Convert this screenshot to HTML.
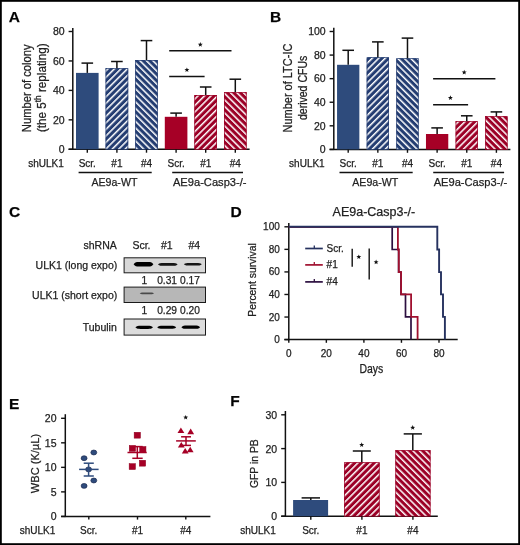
<!DOCTYPE html><html><head><meta charset="utf-8"><style>html,body{margin:0;padding:0;background:#fff;}svg{display:block;will-change:transform;}text{font-family:"Liberation Sans", sans-serif;stroke:#222;stroke-width:0.25px;}</style></head><body>
<svg width="520" height="545" viewBox="0 0 520 545">
<defs>
<pattern id="fb" patternUnits="userSpaceOnUse" width="4.6" height="4.6" patternTransform="rotate(45)"><rect width="4.6" height="4.6" fill="#243d72"/><rect x="0" y="0" width="1.5" height="4.6" fill="#fff"/></pattern>
<pattern id="kb" patternUnits="userSpaceOnUse" width="4.6" height="4.6" patternTransform="rotate(-45)"><rect width="4.6" height="4.6" fill="#243d72"/><rect x="0" y="0" width="1.5" height="4.6" fill="#fff"/></pattern>
<pattern id="fr" patternUnits="userSpaceOnUse" width="4.6" height="4.6" patternTransform="rotate(45)"><rect width="4.6" height="4.6" fill="#9c0026"/><rect x="0" y="0" width="1.5" height="4.6" fill="#fff"/></pattern>
<pattern id="kr" patternUnits="userSpaceOnUse" width="4.6" height="4.6" patternTransform="rotate(-45)"><rect width="4.6" height="4.6" fill="#9c0026"/><rect x="0" y="0" width="1.5" height="4.6" fill="#fff"/></pattern>
</defs>
<rect width="520" height="545" fill="#fff"/>
<text x="8.8" y="21.7" font-size="15.5" text-anchor="start" fill="#000" font-weight="bold" >A</text>
<text x="269.9" y="21.7" font-size="15.5" text-anchor="start" fill="#000" font-weight="bold" >B</text>
<text x="8.9" y="217.4" font-size="15.5" text-anchor="start" fill="#000" font-weight="bold" >C</text>
<text x="230.5" y="217.4" font-size="15.5" text-anchor="start" fill="#000" font-weight="bold" >D</text>
<text x="9.1" y="408.9" font-size="15.5" text-anchor="start" fill="#000" font-weight="bold" >E</text>
<text x="230.3" y="405.9" font-size="15.5" text-anchor="start" fill="#000" font-weight="bold" >F</text>
<line x1="72.8" y1="28" x2="72.8" y2="150.0" stroke="#111" stroke-width="1.5"/>
<line x1="68.6" y1="31.5" x2="72.8" y2="31.5" stroke="#111" stroke-width="1.4"/>
<text x="64.7" y="35.25" font-size="10.5" text-anchor="end" fill="#222" font-weight="normal" >80</text>
<line x1="68.6" y1="60.95" x2="72.8" y2="60.95" stroke="#111" stroke-width="1.4"/>
<text x="64.7" y="64.7" font-size="10.5" text-anchor="end" fill="#222" font-weight="normal" >60</text>
<line x1="68.6" y1="90.4" x2="72.8" y2="90.4" stroke="#111" stroke-width="1.4"/>
<text x="64.7" y="94.15" font-size="10.5" text-anchor="end" fill="#222" font-weight="normal" >40</text>
<line x1="68.6" y1="119.85000000000001" x2="72.8" y2="119.85000000000001" stroke="#111" stroke-width="1.4"/>
<text x="64.7" y="123.60000000000001" font-size="10.5" text-anchor="end" fill="#222" font-weight="normal" >20</text>
<line x1="68.6" y1="149.3" x2="72.8" y2="149.3" stroke="#111" stroke-width="1.4"/>
<text x="64.7" y="153.05" font-size="10.5" text-anchor="end" fill="#222" font-weight="normal" >0</text>
<line x1="68.6" y1="149.3" x2="249.6" y2="149.3" stroke="#111" stroke-width="1.5"/>
<rect x="76.0" y="72.9" width="22.60" height="76.40" fill="#2e4b7c" stroke="none" stroke-width="0"/>
<line x1="87.3" y1="72.9" x2="87.3" y2="63.1" stroke="#111" stroke-width="1.5"/>
<line x1="81.5" y1="63.1" x2="93.1" y2="63.1" stroke="#111" stroke-width="1.5"/>
<line x1="87.3" y1="149.3" x2="87.3" y2="152.70000000000002" stroke="#111" stroke-width="1.4"/>
<rect x="105.60000000000001" y="68.2" width="22.60" height="81.10" fill="url(#fb)" stroke="none" stroke-width="0"/>
<rect x="105.95" y="68.55" width="21.90" height="80.75" fill="none" stroke="#243d72" stroke-width="0.7"/>
<line x1="116.9" y1="68.2" x2="116.9" y2="61.5" stroke="#111" stroke-width="1.5"/>
<line x1="111.10000000000001" y1="61.5" x2="122.7" y2="61.5" stroke="#111" stroke-width="1.5"/>
<line x1="116.9" y1="149.3" x2="116.9" y2="152.70000000000002" stroke="#111" stroke-width="1.4"/>
<rect x="135.2" y="60.0" width="22.60" height="89.30" fill="url(#kb)" stroke="none" stroke-width="0"/>
<rect x="135.54999999999998" y="60.35" width="21.90" height="88.95" fill="none" stroke="#243d72" stroke-width="0.7"/>
<line x1="146.5" y1="60.0" x2="146.5" y2="40.6" stroke="#111" stroke-width="1.5"/>
<line x1="140.7" y1="40.6" x2="152.3" y2="40.6" stroke="#111" stroke-width="1.5"/>
<line x1="146.5" y1="149.3" x2="146.5" y2="152.70000000000002" stroke="#111" stroke-width="1.4"/>
<rect x="164.8" y="116.8" width="22.60" height="32.50" fill="#a60026" stroke="none" stroke-width="0"/>
<line x1="176.10000000000002" y1="116.8" x2="176.10000000000002" y2="113.1" stroke="#111" stroke-width="1.5"/>
<line x1="170.3" y1="113.1" x2="181.90000000000003" y2="113.1" stroke="#111" stroke-width="1.5"/>
<line x1="176.10000000000002" y1="149.3" x2="176.10000000000002" y2="152.70000000000002" stroke="#111" stroke-width="1.4"/>
<rect x="194.39999999999998" y="95.0" width="22.60" height="54.30" fill="url(#fr)" stroke="none" stroke-width="0"/>
<rect x="194.74999999999997" y="95.35" width="21.90" height="53.95" fill="none" stroke="#9c0026" stroke-width="0.7"/>
<line x1="205.7" y1="95.0" x2="205.7" y2="87.0" stroke="#111" stroke-width="1.5"/>
<line x1="199.89999999999998" y1="87.0" x2="211.5" y2="87.0" stroke="#111" stroke-width="1.5"/>
<line x1="205.7" y1="149.3" x2="205.7" y2="152.70000000000002" stroke="#111" stroke-width="1.4"/>
<rect x="224.0" y="92.2" width="22.60" height="57.10" fill="url(#kr)" stroke="none" stroke-width="0"/>
<rect x="224.35" y="92.55" width="21.90" height="56.75" fill="none" stroke="#9c0026" stroke-width="0.7"/>
<line x1="235.3" y1="92.2" x2="235.3" y2="79.2" stroke="#111" stroke-width="1.5"/>
<line x1="229.5" y1="79.2" x2="241.10000000000002" y2="79.2" stroke="#111" stroke-width="1.5"/>
<line x1="235.3" y1="149.3" x2="235.3" y2="152.70000000000002" stroke="#111" stroke-width="1.4"/>
<line x1="169.2" y1="50.8" x2="231.5" y2="50.8" stroke="#111" stroke-width="1.5"/>
<polygon points="200.30,42.00 200.95,43.71 202.77,43.80 201.35,44.94 201.83,46.70 200.30,45.70 198.77,46.70 199.25,44.94 197.83,43.80 199.65,43.71" fill="#111"/>
<line x1="169.2" y1="76.5" x2="204.6" y2="76.5" stroke="#111" stroke-width="1.5"/>
<polygon points="186.90,67.40 187.55,69.11 189.37,69.20 187.95,70.34 188.43,72.10 186.90,71.10 185.37,72.10 185.85,70.34 184.43,69.20 186.25,69.11" fill="#111"/>
<text x="63.8" y="166.6" font-size="10" text-anchor="end" fill="#222" font-weight="normal" >shULK1</text>
<text x="87.3" y="166.6" font-size="10" text-anchor="middle" fill="#222" font-weight="normal" >Scr.</text>
<text x="116.9" y="166.6" font-size="10" text-anchor="middle" fill="#222" font-weight="normal" >#1</text>
<text x="146.5" y="166.6" font-size="10" text-anchor="middle" fill="#222" font-weight="normal" >#4</text>
<text x="176.10000000000002" y="166.6" font-size="10" text-anchor="middle" fill="#222" font-weight="normal" >Scr.</text>
<text x="205.7" y="166.6" font-size="10" text-anchor="middle" fill="#222" font-weight="normal" >#1</text>
<text x="235.3" y="166.6" font-size="10" text-anchor="middle" fill="#222" font-weight="normal" >#4</text>
<line x1="78.6" y1="172.6" x2="151.7" y2="172.6" stroke="#111" stroke-width="1.5"/>
<line x1="172.20000000000002" y1="172.6" x2="243.0" y2="172.6" stroke="#111" stroke-width="1.5"/>
<text x="114.4" y="185.6" font-size="11.8" text-anchor="middle" fill="#222" font-weight="normal" textLength="46" lengthAdjust="spacingAndGlyphs">AE9a-WT</text>
<text x="209.75" y="185.6" font-size="11.8" text-anchor="middle" fill="#222" font-weight="normal" textLength="73.6" lengthAdjust="spacingAndGlyphs">AE9a-Casp3-/-</text>
<text transform="translate(30.5,88.3) rotate(-90)" font-size="12" text-anchor="middle" fill="#222" textLength="87.8" lengthAdjust="spacingAndGlyphs">Number of colony</text>
<text transform="translate(45.5,87.75) rotate(-90) scale(0.974,1)" font-size="12" text-anchor="middle" fill="#222">(the 5<tspan font-size="8.5" dy="-4.3">th</tspan><tspan dy="4.3"> replating)</tspan></text>
<line x1="333.8" y1="27.8" x2="333.8" y2="150.1" stroke="#111" stroke-width="1.5"/>
<line x1="329.6" y1="31.5" x2="333.8" y2="31.5" stroke="#111" stroke-width="1.4"/>
<text x="325.7" y="35.25" font-size="10.5" text-anchor="end" fill="#222" font-weight="normal" >100</text>
<line x1="329.6" y1="55.08" x2="333.8" y2="55.08" stroke="#111" stroke-width="1.4"/>
<text x="325.7" y="58.83" font-size="10.5" text-anchor="end" fill="#222" font-weight="normal" >80</text>
<line x1="329.6" y1="78.66" x2="333.8" y2="78.66" stroke="#111" stroke-width="1.4"/>
<text x="325.7" y="82.41" font-size="10.5" text-anchor="end" fill="#222" font-weight="normal" >60</text>
<line x1="329.6" y1="102.24000000000001" x2="333.8" y2="102.24000000000001" stroke="#111" stroke-width="1.4"/>
<text x="325.7" y="105.99000000000001" font-size="10.5" text-anchor="end" fill="#222" font-weight="normal" >40</text>
<line x1="329.6" y1="125.82000000000001" x2="333.8" y2="125.82000000000001" stroke="#111" stroke-width="1.4"/>
<text x="325.7" y="129.57" font-size="10.5" text-anchor="end" fill="#222" font-weight="normal" >20</text>
<line x1="329.6" y1="149.4" x2="333.8" y2="149.4" stroke="#111" stroke-width="1.4"/>
<text x="325.7" y="153.15" font-size="10.5" text-anchor="end" fill="#222" font-weight="normal" >0</text>
<line x1="329.6" y1="149.4" x2="510.4" y2="149.4" stroke="#111" stroke-width="1.5"/>
<rect x="337.05" y="64.8" width="22.30" height="84.60" fill="#2e4b7c" stroke="none" stroke-width="0"/>
<line x1="348.2" y1="64.8" x2="348.2" y2="50.3" stroke="#111" stroke-width="1.5"/>
<line x1="342.4" y1="50.3" x2="354.0" y2="50.3" stroke="#111" stroke-width="1.5"/>
<line x1="348.2" y1="149.4" x2="348.2" y2="152.8" stroke="#111" stroke-width="1.4"/>
<rect x="366.69" y="57.3" width="22.30" height="92.10" fill="url(#fb)" stroke="none" stroke-width="0"/>
<rect x="367.04" y="57.65" width="21.60" height="91.75" fill="none" stroke="#243d72" stroke-width="0.7"/>
<line x1="377.84" y1="57.3" x2="377.84" y2="41.9" stroke="#111" stroke-width="1.5"/>
<line x1="372.03999999999996" y1="41.9" x2="383.64" y2="41.9" stroke="#111" stroke-width="1.5"/>
<line x1="377.84" y1="149.4" x2="377.84" y2="152.8" stroke="#111" stroke-width="1.4"/>
<rect x="396.33000000000004" y="58.3" width="22.30" height="91.10" fill="url(#kb)" stroke="none" stroke-width="0"/>
<rect x="396.68000000000006" y="58.65" width="21.60" height="90.75" fill="none" stroke="#243d72" stroke-width="0.7"/>
<line x1="407.48" y1="58.3" x2="407.48" y2="38.1" stroke="#111" stroke-width="1.5"/>
<line x1="401.68" y1="38.1" x2="413.28000000000003" y2="38.1" stroke="#111" stroke-width="1.5"/>
<line x1="407.48" y1="149.4" x2="407.48" y2="152.8" stroke="#111" stroke-width="1.4"/>
<rect x="425.97" y="134.0" width="22.30" height="15.40" fill="#a60026" stroke="none" stroke-width="0"/>
<line x1="437.12" y1="134.0" x2="437.12" y2="127.9" stroke="#111" stroke-width="1.5"/>
<line x1="431.32" y1="127.9" x2="442.92" y2="127.9" stroke="#111" stroke-width="1.5"/>
<line x1="437.12" y1="149.4" x2="437.12" y2="152.8" stroke="#111" stroke-width="1.4"/>
<rect x="455.61" y="121.2" width="22.30" height="28.20" fill="url(#fr)" stroke="none" stroke-width="0"/>
<rect x="455.96000000000004" y="121.55" width="21.60" height="27.85" fill="none" stroke="#9c0026" stroke-width="0.7"/>
<line x1="466.76" y1="121.2" x2="466.76" y2="115.8" stroke="#111" stroke-width="1.5"/>
<line x1="460.96" y1="115.8" x2="472.56" y2="115.8" stroke="#111" stroke-width="1.5"/>
<line x1="466.76" y1="149.4" x2="466.76" y2="152.8" stroke="#111" stroke-width="1.4"/>
<rect x="485.25" y="116.2" width="22.30" height="33.20" fill="url(#kr)" stroke="none" stroke-width="0"/>
<rect x="485.6" y="116.55" width="21.60" height="32.85" fill="none" stroke="#9c0026" stroke-width="0.7"/>
<line x1="496.4" y1="116.2" x2="496.4" y2="111.9" stroke="#111" stroke-width="1.5"/>
<line x1="490.59999999999997" y1="111.9" x2="502.2" y2="111.9" stroke="#111" stroke-width="1.5"/>
<line x1="496.4" y1="149.4" x2="496.4" y2="152.8" stroke="#111" stroke-width="1.4"/>
<line x1="433.1" y1="78.7" x2="495.4" y2="78.7" stroke="#111" stroke-width="1.5"/>
<polygon points="464.20,69.70 464.85,71.41 466.67,71.50 465.25,72.64 465.73,74.40 464.20,73.40 462.67,74.40 463.15,72.64 461.73,71.50 463.55,71.41" fill="#111"/>
<line x1="433.1" y1="104.8" x2="468.1" y2="104.8" stroke="#111" stroke-width="1.5"/>
<polygon points="450.40,95.30 451.05,97.01 452.87,97.10 451.45,98.24 451.93,100.00 450.40,99.00 448.87,100.00 449.35,98.24 447.93,97.10 449.75,97.01" fill="#111"/>
<text x="324.7" y="166.6" font-size="10" text-anchor="end" fill="#222" font-weight="normal" >shULK1</text>
<text x="348.2" y="166.6" font-size="10" text-anchor="middle" fill="#222" font-weight="normal" >Scr.</text>
<text x="377.84" y="166.6" font-size="10" text-anchor="middle" fill="#222" font-weight="normal" >#1</text>
<text x="407.48" y="166.6" font-size="10" text-anchor="middle" fill="#222" font-weight="normal" >#4</text>
<text x="437.12" y="166.6" font-size="10" text-anchor="middle" fill="#222" font-weight="normal" >Scr.</text>
<text x="466.76" y="166.6" font-size="10" text-anchor="middle" fill="#222" font-weight="normal" >#1</text>
<text x="496.4" y="166.6" font-size="10" text-anchor="middle" fill="#222" font-weight="normal" >#4</text>
<line x1="339.5" y1="172.6" x2="412.68" y2="172.6" stroke="#111" stroke-width="1.5"/>
<line x1="433.22" y1="172.6" x2="504.09999999999997" y2="172.6" stroke="#111" stroke-width="1.5"/>
<text x="375.25" y="185.6" font-size="11.8" text-anchor="middle" fill="#222" font-weight="normal" textLength="46" lengthAdjust="spacingAndGlyphs">AE9a-WT</text>
<text x="470.45" y="185.6" font-size="11.8" text-anchor="middle" fill="#222" font-weight="normal" textLength="73.6" lengthAdjust="spacingAndGlyphs">AE9a-Casp3-/-</text>
<text transform="translate(292.0,88.05) rotate(-90)" font-size="12" text-anchor="middle" fill="#222" textLength="88.8" lengthAdjust="spacingAndGlyphs">Number of LTC-IC</text>
<text transform="translate(306.9,87.9) rotate(-90)" font-size="12" text-anchor="middle" fill="#222" textLength="64.3" lengthAdjust="spacingAndGlyphs">derived CFUs</text>
<text x="116.8" y="249.3" font-size="10.5" text-anchor="end" fill="#222" font-weight="normal" >shRNA</text>
<text x="141.5" y="249.3" font-size="10.5" text-anchor="middle" fill="#222" font-weight="normal" >Scr.</text>
<text x="166.8" y="249.3" font-size="10.5" text-anchor="middle" fill="#222" font-weight="normal" >#1</text>
<text x="194.3" y="249.3" font-size="10.5" text-anchor="middle" fill="#222" font-weight="normal" >#4</text>
<text x="117.3" y="269.1" font-size="10.5" text-anchor="end" fill="#222" font-weight="normal" >ULK1 (long expo)</text>
<text x="117.3" y="299.0" font-size="10.5" text-anchor="end" fill="#222" font-weight="normal" >ULK1 (short expo)</text>
<text x="116.8" y="331.2" font-size="10.5" text-anchor="end" fill="#222" font-weight="normal" >Tubulin</text>
<text x="144.4" y="283.8" font-size="10.2" text-anchor="middle" fill="#222" font-weight="normal" >1</text>
<text x="167.1" y="283.8" font-size="10.2" text-anchor="middle" fill="#222" font-weight="normal" >0.31</text>
<text x="189.9" y="283.8" font-size="10.2" text-anchor="middle" fill="#222" font-weight="normal" >0.17</text>
<text x="144.4" y="314.2" font-size="10.2" text-anchor="middle" fill="#222" font-weight="normal" >1</text>
<text x="167.1" y="314.2" font-size="10.2" text-anchor="middle" fill="#222" font-weight="normal" >0.29</text>
<text x="189.9" y="314.2" font-size="10.2" text-anchor="middle" fill="#222" font-weight="normal" >0.20</text>
<defs><filter id="blur1" x="-20%" y="-100%" width="140%" height="300%"><feGaussianBlur stdDeviation="0.45"/></filter><filter id="blur2" x="-20%" y="-100%" width="140%" height="300%"><feGaussianBlur stdDeviation="0.7"/></filter></defs>
<rect x="124.1" y="257.8" width="81.40" height="15.00" fill="#d8d8d8" stroke="#1a1a1a" stroke-width="1.0"/>
<path d="M133.6,264.2 C135.10,261.90 136.60,261.90 138.60,261.90 L148.40,261.90 C150.40,261.90 151.90,261.90 153.4,264.2 C151.90,266.50 150.40,266.50 148.40,266.50 L138.60,266.50 C136.60,266.50 135.10,266.50 133.6,264.2 Z" fill="#050505" filter="url(#blur1)"/>
<path d="M158.0,264.4 C159.50,263.10 161.00,263.10 163.00,263.10 L172.60,263.10 C174.60,263.10 176.10,263.10 177.6,264.4 C176.10,265.70 174.60,265.70 172.60,265.70 L163.00,265.70 C161.00,265.70 159.50,265.70 158.0,264.4 Z" fill="#151515" filter="url(#blur1)"/>
<path d="M183.9,264.2 C185.40,262.90 186.90,262.90 188.90,262.90 L196.80,262.90 C198.80,262.90 200.30,262.90 201.8,264.2 C200.30,265.50 198.80,265.50 196.80,265.50 L188.90,265.50 C186.90,265.50 185.40,265.50 183.9,264.2 Z" fill="#151515" filter="url(#blur1)"/>
<rect x="124.1" y="287.1" width="81.40" height="15.40" fill="#b7b7b7" stroke="#1a1a1a" stroke-width="1.0"/>
<path d="M139.8,293.4 C141.22,292.60 142.64,292.60 144.53,292.60 L149.27,292.60 C151.16,292.60 152.58,292.60 154.0,293.4 C152.58,294.20 151.16,294.20 149.27,294.20 L144.53,294.20 C142.64,294.20 141.22,294.20 139.8,293.4 Z" fill="#4a4a4a" filter="url(#blur2)"/>
<rect x="124.1" y="319.0" width="81.40" height="16.10" fill="#dcdcdc" stroke="#1a1a1a" stroke-width="1.0"/>
<path d="M135.4,327.3 C136.90,325.70 138.40,325.70 140.40,325.70 L148.00,325.70 C150.00,325.70 151.50,325.70 153.0,327.3 C151.50,328.90 150.00,328.90 148.00,328.90 L140.40,328.90 C138.40,328.90 136.90,328.90 135.4,327.3 Z" fill="#050505" filter="url(#blur1)"/>
<path d="M157.2,327.3 C158.70,325.75 160.20,325.75 162.20,325.75 L171.20,325.75 C173.20,325.75 174.70,325.75 176.2,327.3 C174.70,328.85 173.20,328.85 171.20,328.85 L162.20,328.85 C160.20,328.85 158.70,328.85 157.2,327.3 Z" fill="#050505" filter="url(#blur1)"/>
<path d="M181.4,327.2 C182.90,325.60 184.40,325.60 186.40,325.60 L195.10,325.60 C197.10,325.60 198.60,325.60 200.1,327.2 C198.60,328.80 197.10,328.80 195.10,328.80 L186.40,328.80 C184.40,328.80 182.90,328.80 181.4,327.2 Z" fill="#050505" filter="url(#blur1)"/>
<text x="373.9" y="215.8" font-size="12.5" text-anchor="middle" fill="#222" font-weight="normal" >AE9a-Casp3-/-</text>
<line x1="288.8" y1="223.0" x2="288.8" y2="340.3" stroke="#111" stroke-width="1.5"/>
<line x1="284.40000000000003" y1="339.6" x2="288.8" y2="339.6" stroke="#111" stroke-width="1.4"/>
<text x="279.8" y="343.1" font-size="10" text-anchor="end" fill="#222" font-weight="normal" >0</text>
<line x1="284.40000000000003" y1="317.04" x2="288.8" y2="317.04" stroke="#111" stroke-width="1.4"/>
<text x="279.8" y="320.54" font-size="10" text-anchor="end" fill="#222" font-weight="normal" >20</text>
<line x1="284.40000000000003" y1="294.48" x2="288.8" y2="294.48" stroke="#111" stroke-width="1.4"/>
<text x="279.8" y="297.98" font-size="10" text-anchor="end" fill="#222" font-weight="normal" >40</text>
<line x1="284.40000000000003" y1="271.92" x2="288.8" y2="271.92" stroke="#111" stroke-width="1.4"/>
<text x="279.8" y="275.42" font-size="10" text-anchor="end" fill="#222" font-weight="normal" >60</text>
<line x1="284.40000000000003" y1="249.36" x2="288.8" y2="249.36" stroke="#111" stroke-width="1.4"/>
<text x="279.8" y="252.86" font-size="10" text-anchor="end" fill="#222" font-weight="normal" >80</text>
<line x1="284.40000000000003" y1="226.8" x2="288.8" y2="226.8" stroke="#111" stroke-width="1.4"/>
<text x="279.8" y="230.3" font-size="10" text-anchor="end" fill="#222" font-weight="normal" >100</text>
<line x1="284.40000000000003" y1="339.6" x2="457.7" y2="339.6" stroke="#111" stroke-width="1.5"/>
<line x1="288.8" y1="339.6" x2="288.8" y2="342.8" stroke="#111" stroke-width="1.4"/>
<text x="288.8" y="356.8" font-size="10" text-anchor="middle" fill="#222" font-weight="normal" >0</text>
<line x1="326.35" y1="339.6" x2="326.35" y2="342.8" stroke="#111" stroke-width="1.4"/>
<text x="326.35" y="356.8" font-size="10" text-anchor="middle" fill="#222" font-weight="normal" >20</text>
<line x1="363.9" y1="339.6" x2="363.9" y2="342.8" stroke="#111" stroke-width="1.4"/>
<text x="363.9" y="356.8" font-size="10" text-anchor="middle" fill="#222" font-weight="normal" >40</text>
<line x1="401.45000000000005" y1="339.6" x2="401.45000000000005" y2="342.8" stroke="#111" stroke-width="1.4"/>
<text x="401.45000000000005" y="356.8" font-size="10" text-anchor="middle" fill="#222" font-weight="normal" >60</text>
<line x1="439.0" y1="339.6" x2="439.0" y2="342.8" stroke="#111" stroke-width="1.4"/>
<text x="439.0" y="356.8" font-size="10" text-anchor="middle" fill="#222" font-weight="normal" >80</text>
<text x="371.35" y="373.2" font-size="12.2" text-anchor="middle" fill="#222" font-weight="normal" textLength="23.8" lengthAdjust="spacingAndGlyphs">Days</text>
<text transform="translate(255.8,279.95) rotate(-90)" font-size="11.6" text-anchor="middle" fill="#222" textLength="73.5" lengthAdjust="spacingAndGlyphs">Percent survival</text>
<path d="M288.8,226.8 H392.2 V249.5 H398.6 V272.1 H401.0 V294.4 H405.5 V316.9 H411.0 V339.6" fill="none" stroke="#2c0f40" stroke-width="1.7"/>
<path d="M288.8,226.8 H397.9 V249.5 H398.8 V272.1 H401.1 V294.4 H411.1 V316.9 H417.6 V339.6" fill="none" stroke="#a0102f" stroke-width="1.8"/>
<path d="M288.8,226.8 H437.3 V249.5 H439.1 V272.1 H441.0 V294.4 H443.0 V316.9 H444.9 V339.6" fill="none" stroke="#26325f" stroke-width="1.9"/>
<line x1="305.2" y1="248.5" x2="322.8" y2="248.5" stroke="#26325f" stroke-width="1.7"/>
<line x1="314.3" y1="248.5" x2="314.3" y2="245.5" stroke="#26325f" stroke-width="1.3"/>
<text x="326.6" y="251.6" font-size="10" text-anchor="start" fill="#222" font-weight="normal" >Scr.</text>
<line x1="305.2" y1="264.9" x2="322.8" y2="264.9" stroke="#a0102f" stroke-width="1.7"/>
<line x1="314.3" y1="264.9" x2="314.3" y2="261.9" stroke="#a0102f" stroke-width="1.3"/>
<text x="326.6" y="268.4" font-size="10" text-anchor="start" fill="#222" font-weight="normal" >#1</text>
<line x1="305.2" y1="281.9" x2="322.8" y2="281.9" stroke="#2c0f40" stroke-width="1.7"/>
<line x1="314.3" y1="281.9" x2="314.3" y2="278.9" stroke="#2c0f40" stroke-width="1.3"/>
<text x="326.6" y="285.4" font-size="10" text-anchor="start" fill="#222" font-weight="normal" >#4</text>
<line x1="352.2" y1="248.8" x2="352.2" y2="266.7" stroke="#111" stroke-width="1.4"/>
<polygon points="358.80,254.40 359.45,256.11 361.27,256.20 359.85,257.34 360.33,259.10 358.80,258.10 357.27,259.10 357.75,257.34 356.33,256.20 358.15,256.11" fill="#111"/>
<line x1="369.2" y1="248.5" x2="369.2" y2="279.6" stroke="#111" stroke-width="1.4"/>
<polygon points="376.10,259.60 376.75,261.31 378.57,261.40 377.15,262.54 377.63,264.30 376.10,263.30 374.57,264.30 375.05,262.54 373.63,261.40 375.45,261.31" fill="#111"/>
<line x1="65.3" y1="414.2" x2="65.3" y2="517.1" stroke="#111" stroke-width="1.5"/>
<line x1="61.099999999999994" y1="516.4" x2="65.3" y2="516.4" stroke="#111" stroke-width="1.4"/>
<text x="56.5" y="520.1" font-size="10.5" text-anchor="end" fill="#222" font-weight="normal" >0</text>
<line x1="61.099999999999994" y1="491.875" x2="65.3" y2="491.875" stroke="#111" stroke-width="1.4"/>
<text x="56.5" y="495.575" font-size="10.5" text-anchor="end" fill="#222" font-weight="normal" >5</text>
<line x1="61.099999999999994" y1="467.35" x2="65.3" y2="467.35" stroke="#111" stroke-width="1.4"/>
<text x="56.5" y="471.05" font-size="10.5" text-anchor="end" fill="#222" font-weight="normal" >10</text>
<line x1="61.099999999999994" y1="442.825" x2="65.3" y2="442.825" stroke="#111" stroke-width="1.4"/>
<text x="56.5" y="446.525" font-size="10.5" text-anchor="end" fill="#222" font-weight="normal" >15</text>
<line x1="61.099999999999994" y1="418.3" x2="65.3" y2="418.3" stroke="#111" stroke-width="1.4"/>
<text x="56.5" y="422.0" font-size="10.5" text-anchor="end" fill="#222" font-weight="normal" >20</text>
<line x1="61.099999999999994" y1="516.4" x2="210.4" y2="516.4" stroke="#111" stroke-width="1.5"/>
<line x1="88.8" y1="516.4" x2="88.8" y2="519.6" stroke="#111" stroke-width="1.4"/>
<line x1="137.5" y1="516.4" x2="137.5" y2="519.6" stroke="#111" stroke-width="1.4"/>
<line x1="185.8" y1="516.4" x2="185.8" y2="519.6" stroke="#111" stroke-width="1.4"/>
<text x="55.3" y="533.6" font-size="10" text-anchor="end" fill="#222" font-weight="normal" >shULK1</text>
<text x="88.6" y="533.6" font-size="10" text-anchor="middle" fill="#222" font-weight="normal" >Scr.</text>
<text x="137.6" y="533.6" font-size="10" text-anchor="middle" fill="#222" font-weight="normal" >#1</text>
<text x="185.8" y="533.6" font-size="10" text-anchor="middle" fill="#222" font-weight="normal" >#4</text>
<text transform="translate(39.3,463.55) rotate(-90)" font-size="11.5" text-anchor="middle" fill="#222" textLength="59.3" lengthAdjust="spacingAndGlyphs">WBC (K/µL)</text>
<ellipse cx="93.8" cy="452.5" rx="2.95" ry="2.45" fill="#2e4b7c" stroke="#1d2b50" stroke-width="0.7"/>
<ellipse cx="84.1" cy="458.2" rx="2.95" ry="2.45" fill="#2e4b7c" stroke="#1d2b50" stroke-width="0.7"/>
<ellipse cx="88.6" cy="469.4" rx="2.95" ry="2.45" fill="#2e4b7c" stroke="#1d2b50" stroke-width="0.7"/>
<ellipse cx="93.8" cy="480.5" rx="2.95" ry="2.45" fill="#2e4b7c" stroke="#1d2b50" stroke-width="0.7"/>
<ellipse cx="84.1" cy="485.9" rx="2.95" ry="2.45" fill="#2e4b7c" stroke="#1d2b50" stroke-width="0.7"/>
<line x1="79.1" y1="469.4" x2="98.6" y2="469.4" stroke="#2e4b7c" stroke-width="1.5"/>
<line x1="88.6" y1="463.2" x2="88.6" y2="476.0" stroke="#2e4b7c" stroke-width="1.5"/>
<line x1="83.7" y1="463.2" x2="93.8" y2="463.2" stroke="#2e4b7c" stroke-width="1.5"/>
<line x1="83.7" y1="476.0" x2="93.8" y2="476.0" stroke="#2e4b7c" stroke-width="1.5"/>
<rect x="134.15" y="432.25" width="6.3" height="5.9" fill="#a60026" stroke="#8e0020" stroke-width="0.5"/>
<rect x="129.25" y="445.45" width="6.3" height="5.9" fill="#a60026" stroke="#8e0020" stroke-width="0.5"/>
<rect x="139.65" y="446.55" width="6.3" height="5.9" fill="#a60026" stroke="#8e0020" stroke-width="0.5"/>
<rect x="139.35" y="460.25" width="6.3" height="5.9" fill="#a60026" stroke="#8e0020" stroke-width="0.5"/>
<rect x="129.15" y="463.65000000000003" width="6.3" height="5.9" fill="#a60026" stroke="#8e0020" stroke-width="0.5"/>
<line x1="127.5" y1="452.5" x2="146.7" y2="452.5" stroke="#a60026" stroke-width="1.5"/>
<line x1="137.3" y1="446.6" x2="137.3" y2="458.3" stroke="#a60026" stroke-width="1.5"/>
<line x1="132.3" y1="446.6" x2="142.7" y2="446.6" stroke="#a60026" stroke-width="1.5"/>
<line x1="132.3" y1="458.3" x2="142.7" y2="458.3" stroke="#a60026" stroke-width="1.5"/>
<polygon points="180.9,427.4 177.5,433.0 184.3,433.0" fill="#a60026"/>
<polygon points="190.7,428.6 187.29999999999998,434.20000000000005 194.1,434.20000000000005" fill="#a60026"/>
<polygon points="181.3,442.0 177.9,447.6 184.70000000000002,447.6" fill="#a60026"/>
<polygon points="190.2,446.7 186.79999999999998,452.3 193.6,452.3" fill="#a60026"/>
<polygon points="185.2,448.0 181.79999999999998,453.6 188.6,453.6" fill="#a60026"/>
<line x1="176.1" y1="440.9" x2="195.8" y2="440.9" stroke="#a60026" stroke-width="1.5"/>
<line x1="186.0" y1="436.8" x2="186.0" y2="445.4" stroke="#a60026" stroke-width="1.5"/>
<line x1="181.1" y1="436.8" x2="191.0" y2="436.8" stroke="#a60026" stroke-width="1.5"/>
<line x1="181.1" y1="445.4" x2="191.0" y2="445.4" stroke="#a60026" stroke-width="1.5"/>
<polygon points="185.70,414.90 186.35,416.61 188.17,416.70 186.75,417.84 187.23,419.60 185.70,418.60 184.17,419.60 184.65,417.84 183.23,416.70 185.05,416.61" fill="#111"/>
<line x1="285.4" y1="411.0" x2="285.4" y2="516.9000000000001" stroke="#111" stroke-width="1.5"/>
<line x1="281.2" y1="516.2" x2="285.4" y2="516.2" stroke="#111" stroke-width="1.4"/>
<text x="277.09999999999997" y="520.1" font-size="10.5" text-anchor="end" fill="#222" font-weight="normal" >0</text>
<line x1="281.2" y1="482.40000000000003" x2="285.4" y2="482.40000000000003" stroke="#111" stroke-width="1.4"/>
<text x="277.09999999999997" y="486.3" font-size="10.5" text-anchor="end" fill="#222" font-weight="normal" >10</text>
<line x1="281.2" y1="448.6" x2="285.4" y2="448.6" stroke="#111" stroke-width="1.4"/>
<text x="277.09999999999997" y="452.5" font-size="10.5" text-anchor="end" fill="#222" font-weight="normal" >20</text>
<line x1="281.2" y1="414.8" x2="285.4" y2="414.8" stroke="#111" stroke-width="1.4"/>
<text x="277.09999999999997" y="418.7" font-size="10.5" text-anchor="end" fill="#222" font-weight="normal" >30</text>
<line x1="281.2" y1="516.2" x2="437.8" y2="516.2" stroke="#111" stroke-width="1.5"/>
<rect x="293.1" y="500.0" width="35.00" height="16.20" fill="#2e4b7c" stroke="none" stroke-width="0"/>
<line x1="310.8" y1="500.0" x2="310.8" y2="497.9" stroke="#111" stroke-width="1.5"/>
<line x1="301.6" y1="497.9" x2="320.0" y2="497.9" stroke="#111" stroke-width="1.5"/>
<rect x="344.1" y="462.3" width="35.50" height="53.90" fill="url(#fr)" stroke="none" stroke-width="0"/>
<rect x="344.45000000000005" y="462.65000000000003" width="34.80" height="53.55" fill="none" stroke="#9c0026" stroke-width="0.7"/>
<line x1="361.8" y1="462.3" x2="361.8" y2="451.0" stroke="#111" stroke-width="1.5"/>
<line x1="352.8" y1="451.0" x2="370.8" y2="451.0" stroke="#111" stroke-width="1.5"/>
<rect x="395.4" y="450.2" width="35.10" height="66.00" fill="url(#kr)" stroke="none" stroke-width="0"/>
<rect x="395.75" y="450.55" width="34.40" height="65.65" fill="none" stroke="#9c0026" stroke-width="0.7"/>
<line x1="412.8" y1="450.2" x2="412.8" y2="433.9" stroke="#111" stroke-width="1.5"/>
<line x1="403.7" y1="433.9" x2="421.90000000000003" y2="433.9" stroke="#111" stroke-width="1.5"/>
<line x1="310.8" y1="516.2" x2="310.8" y2="519.8000000000001" stroke="#111" stroke-width="1.4"/>
<line x1="361.9" y1="516.2" x2="361.9" y2="519.8000000000001" stroke="#111" stroke-width="1.4"/>
<line x1="412.9" y1="516.2" x2="412.9" y2="519.8000000000001" stroke="#111" stroke-width="1.4"/>
<polygon points="361.70,442.20 362.35,443.91 364.17,444.00 362.75,445.14 363.23,446.90 361.70,445.90 360.17,446.90 360.65,445.14 359.23,444.00 361.05,443.91" fill="#111"/>
<polygon points="412.70,425.10 413.35,426.81 415.17,426.90 413.75,428.04 414.23,429.80 412.70,428.80 411.17,429.80 411.65,428.04 410.23,426.90 412.05,426.81" fill="#111"/>
<text x="275.8" y="533.5" font-size="10" text-anchor="end" fill="#222" font-weight="normal" >shULK1</text>
<text x="310.8" y="533.5" font-size="10" text-anchor="middle" fill="#222" font-weight="normal" >Scr.</text>
<text x="361.9" y="533.5" font-size="10" text-anchor="middle" fill="#222" font-weight="normal" >#1</text>
<text x="412.9" y="533.5" font-size="10" text-anchor="middle" fill="#222" font-weight="normal" >#4</text>
<text transform="translate(257.8,463.65) rotate(-90)" font-size="11.5" text-anchor="middle" fill="#222" textLength="48.8" lengthAdjust="spacingAndGlyphs">GFP in PB</text>
<rect x="0.9" y="0.9" width="518.2" height="543.2" fill="none" stroke="#000" stroke-width="1.8"/>
</svg></body></html>
